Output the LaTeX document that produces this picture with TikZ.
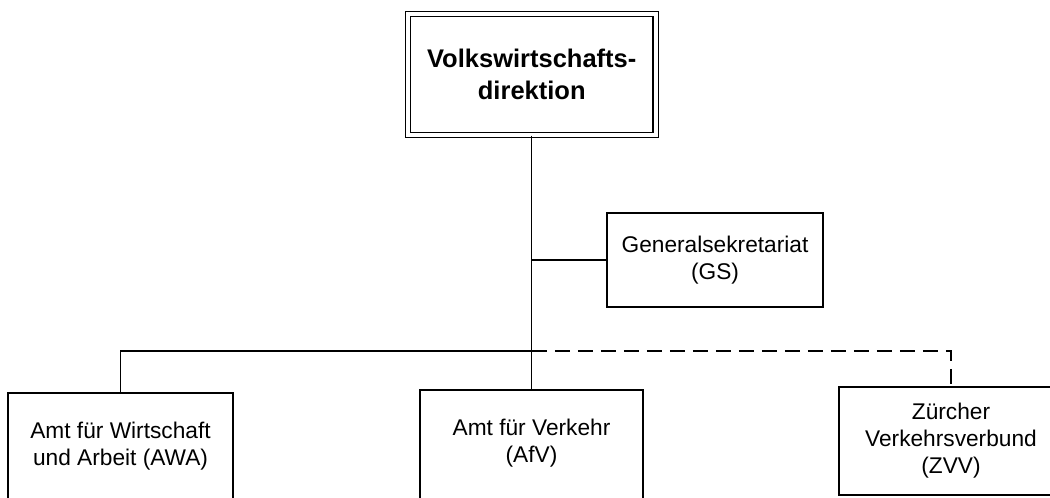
\documentclass[tikz,border=0pt]{standalone}
\usepackage{fontspec}
\setmainfont{Liberation Sans}
\usetikzlibrary{positioning}

\begin{document}
\begin{tikzpicture}[
    x=1pt, y=-1pt,
    box/.style={rectangle, draw=black, line width=1.4pt, inner sep=0pt, align=center, font=\fontsize{22.7}{27}\selectfont},
    head/.style={box, double, double distance=4pt, line width=1.3pt, font=\bfseries\fontsize{25.5}{32}\selectfont},
    boxtext/.style={box, draw=none, anchor=center, yshift=-54pt},
    line/.style={line width=1.4pt},
    dline/.style={line, dash pattern=on 15pt off 8pt}
]
\useasboundingbox (0,0) rectangle (1050,498);
\clip (0,0) rectangle (1050,498);

\node[head, minimum width=247.5pt, minimum height=121pt] (vd) at (531.75,74.5) {Volkswirtschafts-\\direktion};
\node[box, minimum width=216pt, minimum height=94pt] (gs) at (715,260) {Generalsekretariat\\(GS)};
\node[box, minimum width=225pt, minimum height=140pt, label={[boxtext]above:Amt für Wirtschaft\\und Arbeit (AWA)}] (awa) at (120.5,463) {};
\node[box, minimum width=223pt, minimum height=140pt, label={[boxtext]above:Amt für Verkehr\\(AfV)}] (afv) at (531.5,460) {};
\node[box, minimum width=224pt, minimum height=108pt] (zvv) at (951,441) {Zürcher\\Verkehrsverbund\\(ZVV)};

\coordinate (bus) at (531.75,351);

\draw[line] (vd.south) -- (vd.south |- afv.north);
\draw[line] (gs.west) -- (gs.west -| vd.south);
\draw[line] (bus) -| (awa.north);
\draw[dline] (bus) -| (zvv.north);

\end{tikzpicture}
\end{document}
